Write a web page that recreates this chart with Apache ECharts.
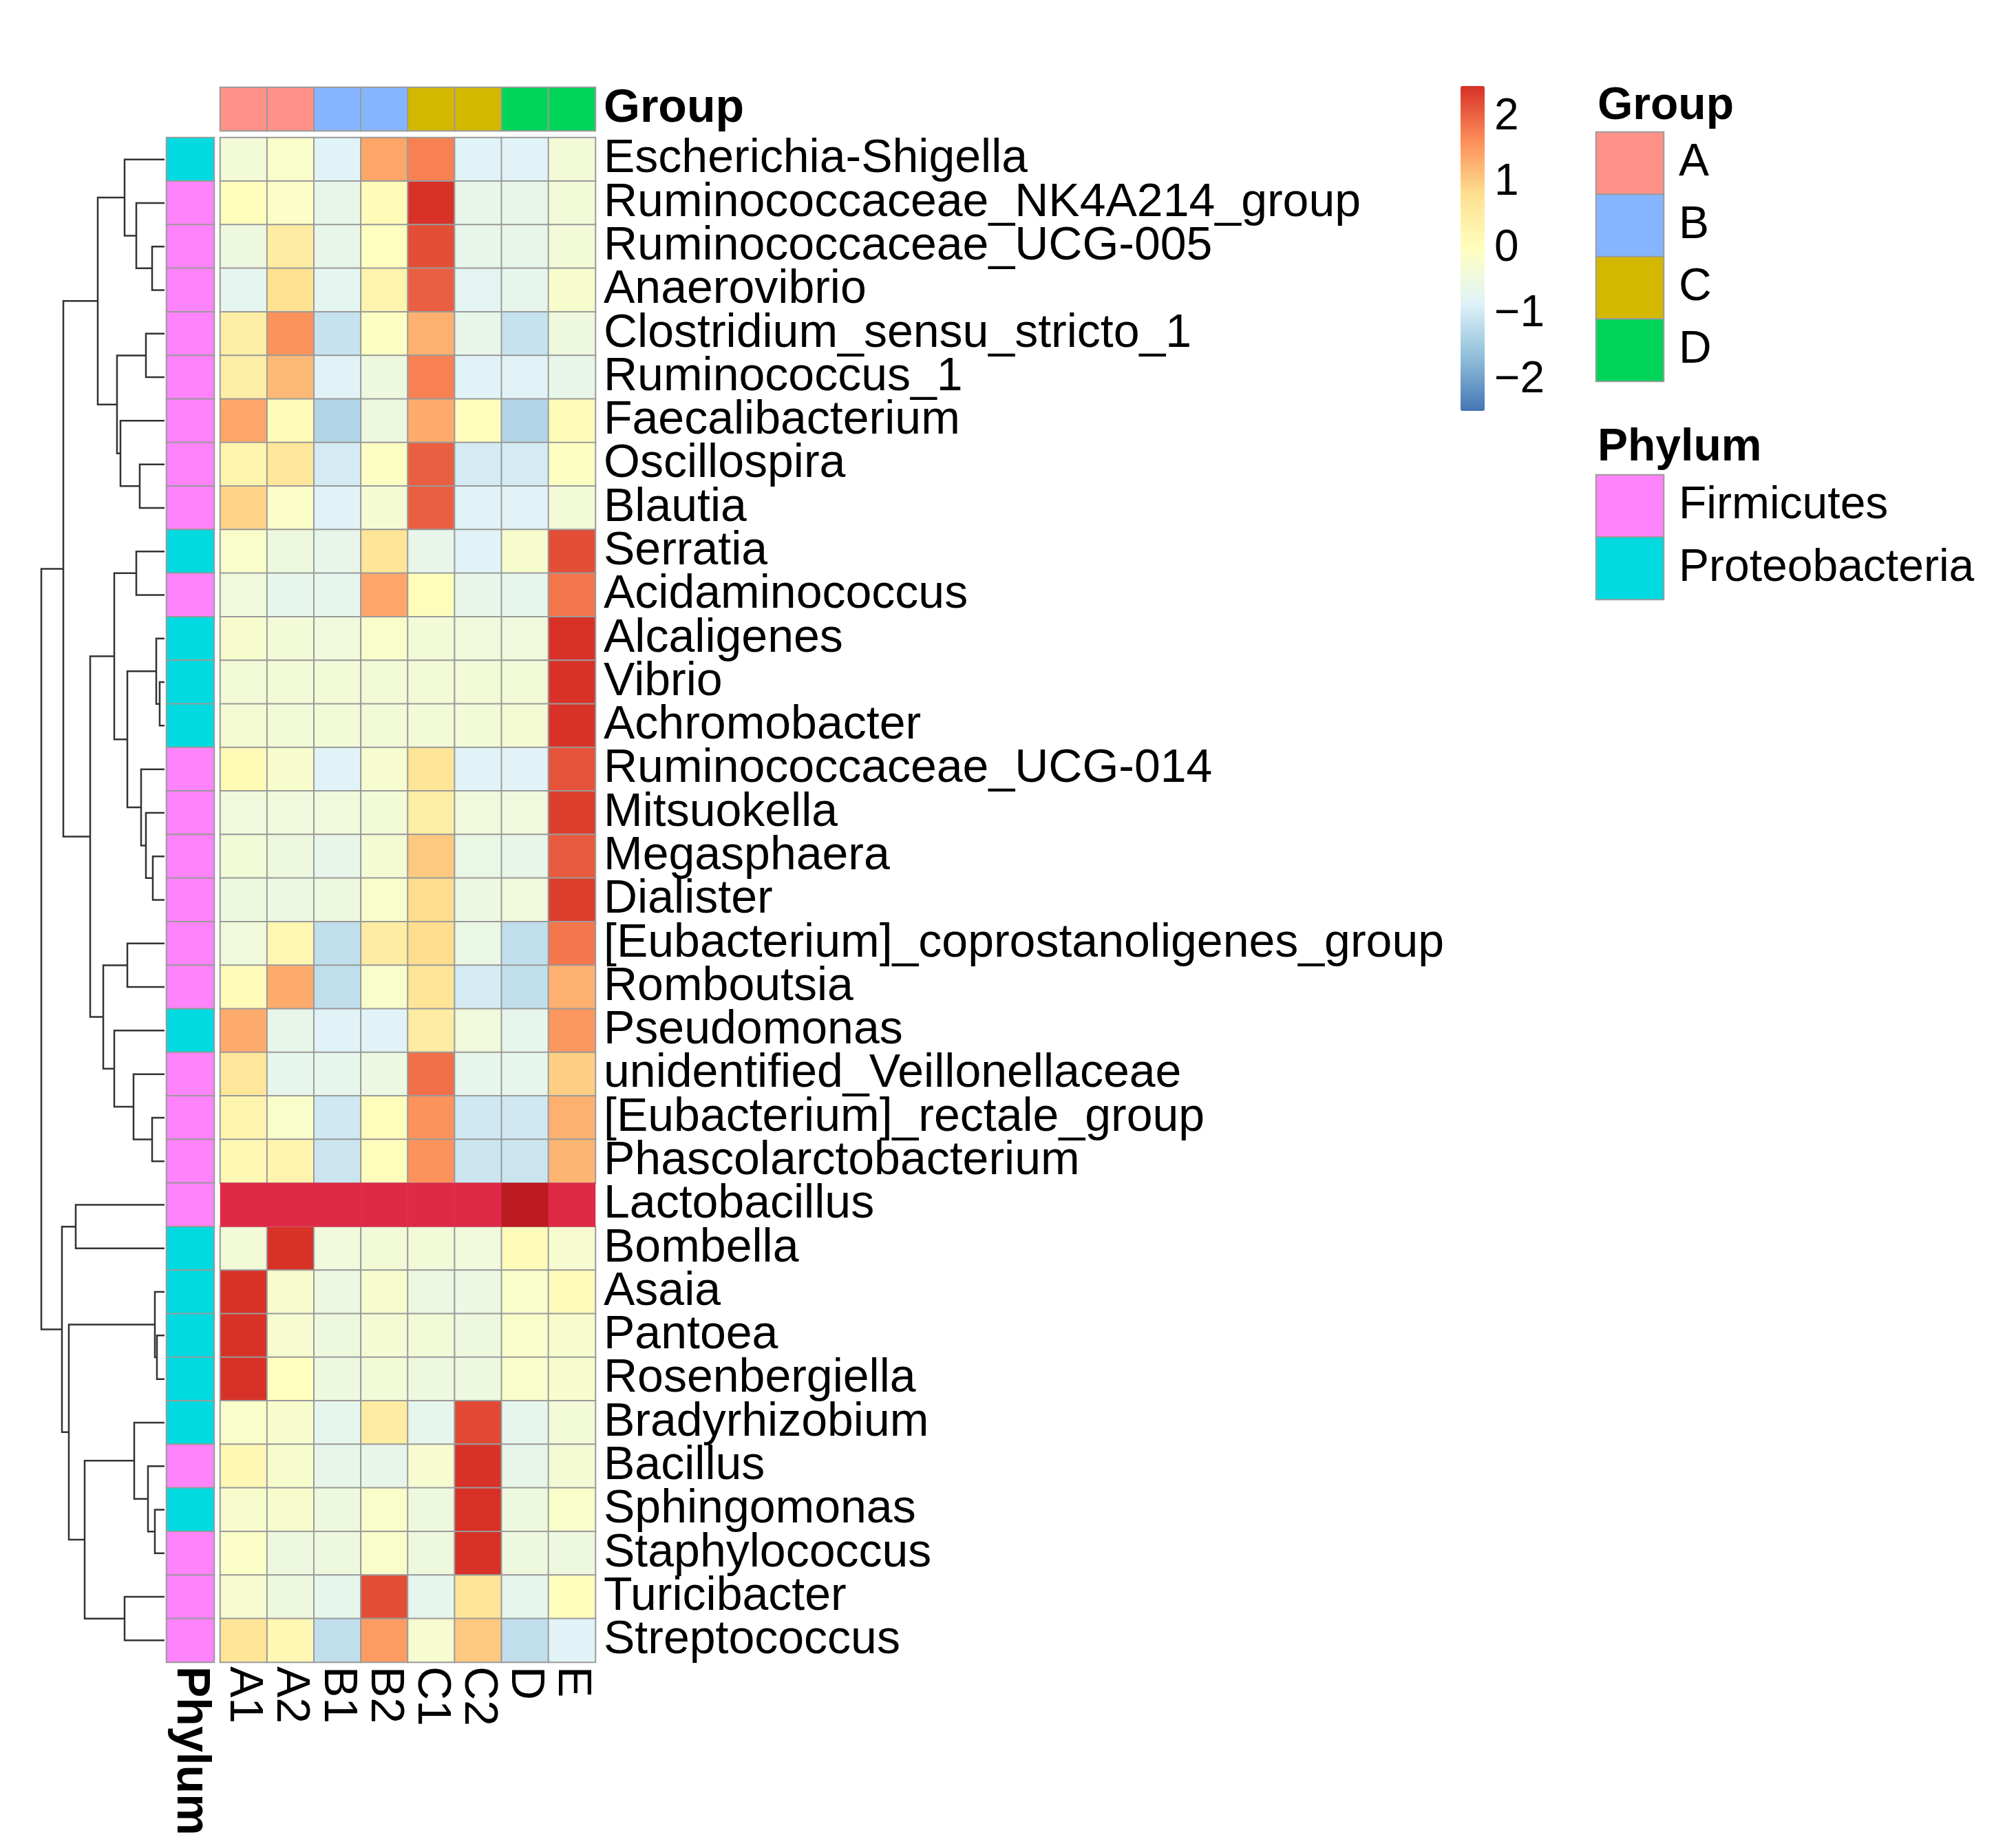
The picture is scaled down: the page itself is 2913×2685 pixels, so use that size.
<!DOCTYPE html>
<html>
<head>
<meta charset="utf-8">
<script src="https://cdn.jsdelivr.net/npm/echarts@6/dist/echarts.min.js"></script>
<style>
  html, body { margin: 0; background: #fff; }
  #heatmap { width: 2913px; height: 2685px; }
</style>
</head>
<body>
<div id="heatmap"></div>
<script>
const samples = ['A1', 'A2', 'B1', 'B2', 'C1', 'C2', 'D', 'E'];
const sampleGroup = ['A', 'A', 'B', 'B', 'C', 'C', 'D', 'D'];
const groups = ['A', 'B', 'C', 'D'];
const groupColors = ['#FF9189', '#85B5FF', '#D4B800', '#00D55A'];
const phyla = ['Firmicutes', 'Proteobacteria'];
const phylumColors = ['#FF83FA', '#00DAE0'];

const genera = [
  'Escherichia-Shigella', 'Ruminococcaceae_NK4A214_group', 'Ruminococcaceae_UCG-005', 'Anaerovibrio',
  'Clostridium_sensu_stricto_1', 'Ruminococcus_1', 'Faecalibacterium', 'Oscillospira', 'Blautia',
  'Serratia', 'Acidaminococcus', 'Alcaligenes', 'Vibrio', 'Achromobacter', 'Ruminococcaceae_UCG-014',
  'Mitsuokella', 'Megasphaera', 'Dialister', '[Eubacterium]_coprostanoligenes_group', 'Romboutsia',
  'Pseudomonas', 'unidentified_Veillonellaceae', '[Eubacterium]_rectale_group', 'Phascolarctobacterium',
  'Lactobacillus', 'Bombella', 'Asaia', 'Pantoea', 'Rosenbergiella', 'Bradyrhizobium', 'Bacillus',
  'Sphingomonas', 'Staphylococcus', 'Turicibacter', 'Streptococcus'
];
const generaPhylum = [
  'Proteobacteria', 'Firmicutes', 'Firmicutes', 'Firmicutes', 'Firmicutes', 'Firmicutes', 'Firmicutes',
  'Firmicutes', 'Firmicutes', 'Proteobacteria', 'Firmicutes', 'Proteobacteria', 'Proteobacteria',
  'Proteobacteria', 'Firmicutes', 'Firmicutes', 'Firmicutes', 'Firmicutes', 'Firmicutes', 'Firmicutes',
  'Proteobacteria', 'Firmicutes', 'Firmicutes', 'Firmicutes', 'Firmicutes', 'Proteobacteria',
  'Proteobacteria', 'Proteobacteria', 'Proteobacteria', 'Proteobacteria', 'Firmicutes', 'Proteobacteria',
  'Firmicutes', 'Firmicutes', 'Firmicutes'
];

// row z-scores, columns in the order of samples
const zscore = [
  [-0.35, -0.15, -0.8, 1.4, 1.75, -0.8, -0.8, -0.35],
  [0.05, -0.1, -0.6, 0.1, 2.45, -0.6, -0.6, -0.35],
  [-0.45, 0.5, -0.6, 0.0, 2.2, -0.6, -0.6, -0.35],
  [-0.7, 0.8, -0.7, 0.3, 2.05, -0.72, -0.65, -0.2],
  [0.45, 1.6, -1.1, -0.05, 1.3, -0.6, -1.1, -0.45],
  [0.45, 1.2, -0.8, -0.45, 1.75, -0.8, -0.8, -0.6],
  [1.4, 0.1, -1.3, -0.45, 1.35, 0.05, -1.3, 0.1],
  [0.3, 0.65, -0.95, -0.05, 2.05, -0.95, -0.95, -0.05],
  [0.95, -0.1, -0.8, -0.3, 2.05, -0.8, -0.8, -0.35],
  [-0.15, -0.45, -0.6, 0.7, -0.6, -0.8, -0.2, 2.2],
  [-0.4, -0.65, -0.65, 1.4, 0.05, -0.6, -0.65, 1.85],
  [-0.2, -0.35, -0.4, -0.15, -0.35, -0.4, -0.4, 2.45],
  [-0.35, -0.35, -0.35, -0.35, -0.35, -0.35, -0.35, 2.45],
  [-0.3, -0.35, -0.35, -0.35, -0.35, -0.35, -0.3, 2.45],
  [0.15, -0.2, -0.8, -0.25, 0.7, -0.8, -0.8, 2.15],
  [-0.4, -0.4, -0.4, -0.35, 0.45, -0.4, -0.4, 2.35],
  [-0.35, -0.45, -0.6, -0.3, 1.05, -0.55, -0.6, 2.1],
  [-0.45, -0.5, -0.45, -0.15, 0.85, -0.5, -0.4, 2.35],
  [-0.4, 0.25, -1.15, 0.5, 0.85, -0.55, -1.15, 1.85],
  [0.1, 1.35, -1.15, -0.15, 0.7, -0.95, -1.15, 1.3],
  [1.35, -0.6, -0.8, -0.8, 0.5, -0.4, -0.65, 1.55],
  [0.65, -0.65, -0.65, -0.5, 1.9, -0.65, -0.65, 1.0],
  [0.3, -0.15, -1.0, 0.05, 1.6, -1.0, -1.0, 1.3],
  [0.2, 0.3, -1.05, 0.05, 1.6, -1.05, -1.05, 1.25],
  [2.9, 2.9, 2.9, 2.9, 2.9, 2.9, 3.3, 2.9],
  [-0.35, 2.45, -0.4, -0.35, -0.35, -0.4, 0.1, -0.25],
  [2.45, -0.2, -0.5, -0.2, -0.5, -0.5, -0.15, 0.1],
  [2.45, -0.25, -0.45, -0.3, -0.35, -0.45, -0.15, -0.2],
  [2.45, 0.0, -0.45, -0.35, -0.45, -0.45, -0.15, -0.2],
  [-0.15, -0.2, -0.65, 0.5, -0.65, 2.25, -0.65, -0.35],
  [0.2, -0.2, -0.6, -0.6, -0.25, 2.45, -0.6, -0.3],
  [-0.2, -0.2, -0.45, -0.15, -0.45, 2.45, -0.45, -0.15],
  [-0.1, -0.45, -0.45, -0.15, -0.45, 2.45, -0.45, -0.45],
  [-0.25, -0.45, -0.65, 2.2, -0.65, 0.7, -0.65, 0.05],
  [0.7, 0.2, -1.15, 1.5, -0.25, 1.05, -1.15, -0.8]
];
const offScaleRow = 'Lactobacillus';

// row dendrogram, hclust style: negative = leaf (1-based), positive = earlier merge
const merges = [
  [-3, -4, 18], [-2, 1, 41], [-1, 2, 58], [-5, -6, 27], [-8, -9, 36], [-7, 5, 64], [4, 6, 69],
  [3, 7, 97], [-10, -11, 41], [-13, -14, 7], [-12, 10, 12], [-17, -18, 17], [-16, 12, 27],
  [-15, 13, 34], [11, 14, 54], [9, 15, 73], [-19, -20, 54], [-23, -24, 18], [-22, 18, 45],
  [-21, 19, 73], [17, 20, 89], [16, 21, 108], [8, 22, 147], [-25, -26, 129], [-28, -29, 11],
  [-27, 25, 14], [-32, -33, 14], [-31, 27, 24], [-30, 28, 44], [-34, -35, 58], [29, 30, 116],
  [26, 31, 139], [24, 32, 149], [23, 33, 179]
];
const treeHeight = 179;

const colorTicks = [-2, -1, 0, 1, 2];
const zLimit = 2.47;
const palette = ['#4575B4', '#91BFDB', '#E0F3F8', '#FFFFBF', '#FEE090', '#FC8D59', '#D73027'];

const FONT = 'Liberation Sans';
const FS = 68;
const TOP = 200, HEIGHT = 2215;

// dendrogram segments
const nodePos = [];
const treeSegs = merges.map(([a, b, h]) => {
  const pos = (k) => k < 0 ? [0, -k - 1] : nodePos[k - 1];
  const pa = pos(a), pb = pos(b);
  nodePos.push([h, (pa[1] + pb[1]) / 2]);
  return [pa[0], pa[1], pb[0], pb[1], h];
});

const mainData = [], offData = [];
zscore.forEach((row, r) => {
  row.forEach((v, c) => {
    (genera[r] === offScaleRow ? offData : mainData).push([c, r, v]);
  });
});
const phylumData = generaPhylum.map((p, r) => [0, r, phyla.indexOf(p)]);
const groupData = sampleGroup.map((g, c) => [c, 0, groups.indexOf(g)]);
const groupLegendData = groups.map((g, i) => [0, i, i]);
const phylumLegendData = phyla.map((p, i) => [0, i, i]);

const hidden = { axisLine: { show: false }, axisTick: { show: false }, splitLine: { show: false } };
const cellStyle = { borderColor: '#9a9a9a', borderWidth: 2 };

const chart = echarts.init(document.getElementById('heatmap'), null, { renderer: 'canvas' });

const option = {
  animation: false,
  backgroundColor: '#fff',
  textStyle: { fontFamily: FONT, color: '#000' },
  title: [
    { text: 'Group', left: 2321, top: 122, padding: 0, textStyle: { fontFamily: FONT, fontSize: 66, fontWeight: 'bold', color: '#000' } },
    { text: 'Phylum', left: 2321, top: 618, padding: 0, textStyle: { fontFamily: FONT, fontSize: 66, fontWeight: 'bold', color: '#000' } }
  ],
  grid: [
    { left: 60, top: TOP, width: treeHeight, height: HEIGHT },     // dendrogram
    { left: 242, top: TOP, width: 69, height: HEIGHT },            // phylum column
    { left: 320, top: TOP, width: 545, height: HEIGHT },           // heatmap
    { left: 320, top: 127, width: 545, height: 63 },               // group bar
    { left: 2319, top: 192, width: 98, height: 362 },              // group legend
    { left: 2319, top: 690, width: 98, height: 181 },              // phylum legend
    { left: 2122, top: 125, width: 35, height: 472 }               // colour bar ticks
  ],
  xAxis: [
    { gridIndex: 0, type: 'value', min: 0, max: treeHeight, inverse: true, show: false },
    { gridIndex: 1, type: 'category', data: ['Phylum'], ...hidden,
      axisLabel: { rotate: -90, margin: 6, fontSize: FS, fontWeight: 'bold', color: '#000' } },
    { gridIndex: 2, type: 'category', data: samples, ...hidden,
      axisLabel: { rotate: -90, margin: 6, fontSize: FS, color: '#000', interval: 0 } },
    { gridIndex: 3, type: 'category', data: samples, show: false },
    { gridIndex: 4, type: 'category', data: [''], show: false },
    { gridIndex: 5, type: 'category', data: [''], show: false },
    { gridIndex: 6, type: 'category', data: [''], show: false }
  ],
  yAxis: [
    { gridIndex: 0, type: 'value', min: -0.5, max: genera.length - 0.5, inverse: true, show: false },
    { gridIndex: 1, type: 'category', data: genera, inverse: true, show: false },
    { gridIndex: 2, type: 'category', data: genera, inverse: true, position: 'right', ...hidden,
      axisLabel: { margin: 12, fontSize: FS, color: '#000', interval: 0 } },
    { gridIndex: 3, type: 'category', data: ['Group'], position: 'right', ...hidden,
      axisLabel: { margin: 12, fontSize: FS, fontWeight: 'bold', color: '#000' } },
    { gridIndex: 4, type: 'category', data: groups, inverse: true, position: 'right', ...hidden,
      axisLabel: { margin: 22, fontSize: 66, color: '#000' } },
    { gridIndex: 5, type: 'category', data: phyla, inverse: true, position: 'right', ...hidden,
      axisLabel: { margin: 22, fontSize: 66, color: '#000' } },
    { gridIndex: 6, type: 'value', min: -zLimit, max: zLimit, position: 'right', ...hidden,
      axisLabel: { customValues: colorTicks, margin: 14, fontSize: 64, color: '#000',
        formatter: (v) => String(v).replace('-', '\u2212') } }
  ],
  visualMap: [
    { type: 'continuous', seriesIndex: 2, min: -zLimit, max: zLimit, inRange: { color: palette },
      orient: 'vertical', left: 2122, top: 125, itemWidth: 35, itemHeight: 472, padding: 0,
      calculable: false, hoverLink: false },
    { type: 'piecewise', seriesIndex: 3, show: false,
      pieces: [{ gt: zLimit, lte: 3.1, color: '#DE2A46' }, { gt: 3.1, color: '#BD1B22' }] },
    { type: 'piecewise', seriesIndex: [4, 5], show: false,
      pieces: groups.map((g, i) => ({ value: i, color: groupColors[i] })) },
    { type: 'piecewise', seriesIndex: [1, 6], show: false,
      pieces: phyla.map((p, i) => ({ value: i, color: phylumColors[i] })) }
  ],
  series: [
    {
      type: 'custom', xAxisIndex: 0, yAxisIndex: 0, data: treeSegs, silent: true, clip: false,
      renderItem: (params, api) => {
        const pts = [
          [api.value(0), api.value(1)], [api.value(4), api.value(1)],
          [api.value(4), api.value(3)], [api.value(2), api.value(3)]
        ].map((d) => api.coord(d));
        return { type: 'polyline', shape: { points: pts }, style: { stroke: '#333', lineWidth: 2.5, fill: null } };
      }
    },
    { type: 'heatmap', xAxisIndex: 1, yAxisIndex: 1, data: phylumData, itemStyle: cellStyle, silent: true },
    { type: 'heatmap', xAxisIndex: 2, yAxisIndex: 2, data: mainData, itemStyle: cellStyle, silent: true },
    { type: 'heatmap', xAxisIndex: 2, yAxisIndex: 2, data: offData, itemStyle: { borderWidth: 0 }, silent: true },
    { type: 'heatmap', xAxisIndex: 3, yAxisIndex: 3, data: groupData, itemStyle: cellStyle, silent: true },
    { type: 'heatmap', xAxisIndex: 4, yAxisIndex: 4, data: groupLegendData, itemStyle: cellStyle, silent: true },
    { type: 'heatmap', xAxisIndex: 5, yAxisIndex: 5, data: phylumLegendData, itemStyle: cellStyle, silent: true }
  ]
};

chart.setOption(option);
window.addEventListener('resize', chart.resize);
</script>
</body>
</html>
